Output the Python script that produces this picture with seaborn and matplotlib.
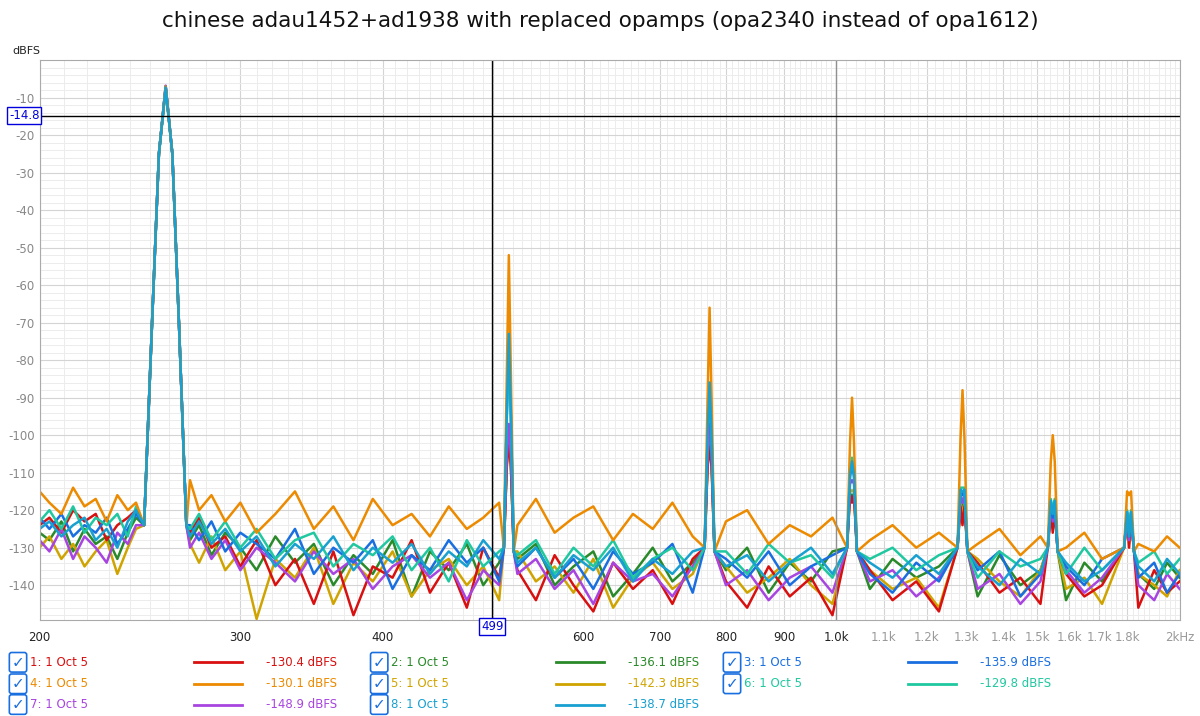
import matplotlib
matplotlib.use('Agg')
import matplotlib.pyplot as plt
import seaborn as sns
import pandas as pd
import numpy as np
from matplotlib.lines import Line2D
from matplotlib.ticker import FixedLocator, NullFormatter

title = "chinese adau1452+ad1938 with replaced opamps (opa2340 instead of opa1612)"

names = ["1: 1 Oct 5", "2: 1 Oct 5", "3: 1 Oct 5", "4: 1 Oct 5",
         "5: 1 Oct 5", "6: 1 Oct 5", "7: 1 Oct 5", "8: 1 Oct 5"]
colors = ["#d81010", "#2a8a2a", "#1a6fe0", "#ec8a00",
          "#d0a400", "#20c8a0", "#a845e0", "#18a0d0"]
readouts = ["-130.4 dBFS", "-136.1 dBFS", "-135.9 dBFS", "-130.1 dBFS",
            "-142.3 dBFS", "-129.8 dBFS", "-148.9 dBFS", "-138.7 dBFS"]

# noise floor sample frequencies (Hz)
noise_f = [200, 204, 209, 214, 219, 224, 229, 234, 239, 243,
           271, 276, 283, 291, 300, 310, 322, 335, 348, 362,
           377, 392, 408, 424, 440, 457, 474, 490, 506,
           525, 545, 566, 588, 612, 637, 663, 690, 718, 748,
           800, 835, 872, 910, 950, 992,
           1070, 1120, 1175, 1230,
           1330, 1390, 1450, 1510,
           1590, 1650, 1710,
           1840, 1900, 1950, 2000]

noise = {
    0: [-124, -122, -126, -120, -123, -121, -128, -124, -122, -120,
        -126, -122, -130, -127, -135, -128, -140, -133, -145, -131,
        -148, -135, -138, -128, -142, -134, -146, -130, -138,
        -136, -144, -132, -140, -147, -134, -141, -136, -145, -133,
        -139, -146, -135, -143, -138, -148,
        -136, -144, -139, -147, -134, -142, -138, -145, -137, -143, -140,
        -146, -136, -142, -139],
    1: [-126, -128, -123, -131, -125, -129, -127, -133, -126, -122,
        -128, -124, -132, -126, -130, -136, -127, -134, -129, -140,
        -132, -137, -128, -143, -131, -136, -129, -140, -134,
        -133, -129, -140, -135, -131, -143, -137, -130, -139, -134,
        -136, -130, -142, -134, -139, -131,
        -141, -133, -138, -135, -143, -132, -140, -136, -144, -134, -139,
        -137, -141, -134, -138],
    2: [-122, -125, -121, -127, -124, -126, -122, -129, -125, -121,
        -124, -128, -123, -131, -126, -129, -133, -125, -137, -130,
        -134, -128, -141, -132, -136, -128, -134, -130, -139,
        -135, -130, -138, -133, -141, -131, -137, -134, -129, -142,
        -133, -138, -131, -140, -135, -132,
        -137, -142, -134, -139, -136, -131, -143, -137, -135, -140, -133,
        -138, -134, -142, -137],
    3: [-115, -118, -121, -114, -119, -117, -123, -116, -120, -118,
        -112, -120, -116, -123, -118, -126, -121, -115, -125, -119,
        -128, -117, -124, -121, -127, -119, -125, -122, -118,
        -124, -117, -126, -122, -119, -128, -121, -125, -118, -127,
        -123, -120, -129, -124, -127, -122,
        -128, -124, -130, -126, -129, -125, -132, -127, -130, -126, -133,
        -129, -131, -127, -130],
    4: [-130, -127, -133, -129, -135, -131, -128, -137, -130, -125,
        -129, -134, -127, -136, -131, -149, -133, -138, -130, -145,
        -134, -139, -131, -143, -136, -133, -140, -135, -144,
        -131, -139, -135, -142, -133, -146, -138, -134, -141, -137,
        -135, -142, -138, -133, -140, -145,
        -136, -141, -138, -146, -133, -139, -143, -136, -141, -138, -145,
        -137, -140, -143, -136],
    5: [-123, -120, -125, -119, -126, -122, -124, -121, -127, -119,
        -125, -121, -128, -123, -130, -125, -133, -128, -126, -135,
        -129, -132, -127, -136, -130, -139, -128, -135, -131,
        -132, -128, -137, -130, -135, -128, -138, -133, -130, -136,
        -131, -137, -129, -134, -132, -138,
        -133, -130, -136, -132, -138, -131, -135, -133, -137, -130, -136,
        -134, -131, -137, -133],
    6: [-128, -131, -125, -133, -127, -130, -134, -126, -129, -124,
        -130, -126, -133, -128, -136, -130, -134, -139, -131, -137,
        -133, -141, -135, -132, -138, -134, -144, -136, -140,
        -137, -133, -141, -136, -145, -134, -139, -137, -143, -135,
        -140, -136, -144, -138, -135, -142,
        -139, -136, -143, -138, -141, -137, -145, -139, -136, -142, -138,
        -140, -144, -137, -141],
    7: [-125, -123, -127, -124, -122, -128, -125, -130, -123, -120,
        -127, -123, -129, -125, -131, -127, -135, -129, -133, -127,
        -136, -130, -134, -129, -137, -131, -135, -128, -133,
        -134, -130, -138, -132, -136, -130, -139, -133, -137, -131,
        -135, -132, -139, -134, -130, -137,
        -134, -138, -132, -137, -135, -140, -133, -137, -134, -139, -136,
        -135, -139, -133, -137],
}

# fundamental and harmonics (Hz) with peak levels per series (dBFS)
fund_f = 258
harm_f = [516, 774, 1032, 1290, 1548, 1806]
harm_peaks = {
    0: [-102, -103, -118, -124, -126, -130],
    1: [-100, -100, -117, -120, -124, -128],
    2: [-74, -87, -108, -116, -122, -127],
    3: [-52, -66, -90, -88, -100, -116],
    4: [-101, -101, -115, -122, -125, -129],
    5: [-75, -86, -106, -114, -120, -126],
    6: [-97, -97, -112, -118, -123, -128],
    7: [-73, -86, -107, -115, -121, -127],
}
fund_peak = [-7, -7.5, -7, -7, -7.5, -7.2, -6.8, -7.3]


def series_frame(i):
    f = list(noise_f)
    v = list(noise[i])
    # fundamental shape
    f += [247, 251, 254.5, fund_f, 261.5, 265, 269]
    p = fund_peak[i]
    v += [-124, -70, -25, p, -25, -70, -124]
    for hf, hp in zip(harm_f, harm_peaks[i]):
        f += [hf * 0.99, hf * 0.996, hf, hf * 1.004, hf * 1.01]
        v += [-130, (hp - 130) / 2 + 8, hp, (hp - 130) / 2 + 8, -131]
    df = pd.DataFrame({"freq": f, "dB": v}).sort_values("freq")
    df["series"] = names[i]
    return df


fig = plt.figure(figsize=(12, 7.16), dpi=100)
ax = fig.add_axes([0.033, 0.134, 0.95, 0.782])

order = [1, 4, 0, 6, 2, 5, 3, 7]
for i in order:
    d = series_frame(i)
    sns.lineplot(data=d, x="freq", y="dB", ax=ax, color=colors[i],
                 linewidth=1.8, sort=False, estimator=None, legend=False)

ax.set_xscale("log")
ax.set_xlim(200, 2000)
ax.set_ylim(-149.3, 0)

major_x = [200, 300, 400, 500, 600, 700, 800, 900, 1000, 1100, 1200, 1300,
           1400, 1500, 1600, 1700, 1800, 2000]
xlabels = ["200", "300", "400", "", "600", "700", "800", "900", "1.0k", "1.1k",
           "1.2k", "1.3k", "1.4k", "1.5k", "1.6k", "1.7k", "1.8k", "2kHz"]
minor_x = [f for f in range(210, 1000, 10) if f % 100] + \
          [f for f in range(1020, 2000, 20) if f % 100]
ax.xaxis.set_major_locator(FixedLocator(major_x))
ax.set_xticks(major_x)
ax.set_xticklabels(xlabels)
ax.xaxis.set_minor_locator(FixedLocator(minor_x))
ax.xaxis.set_minor_formatter(NullFormatter())
for lab, val in zip(ax.get_xticklabels(), major_x):
    lab.set_color("#999999" if val > 1000 else "#222222")

yt = list(range(-140, 0, 10))
ax.set_yticks(yt)
ax.set_yticklabels([str(t) for t in yt], color="#888888")
ax.set_yticks(list(range(-148, 0, 2)), minor=True)
ax.tick_params(axis="both", which="both", length=0, labelsize=8.5)
ax.tick_params(axis="x", pad=8)
ax.grid(which="minor", color="#ececec", linewidth=0.7)
ax.grid(which="major", color="#d4d4d4", linewidth=0.8)
ax.axvline(1000, color="#909090", linewidth=1)
for s in ax.spines.values():
    s.set_color("#aaaaaa")
ax.set_xlabel("")
ax.set_ylabel("")

# cursors
ax.axvline(499, color="black", linewidth=1)
ax.axhline(-14.8, color="black", linewidth=1)
ax.text(200, -14.8, "-14.8", ha="right", va="center", fontsize=8.5, color="#0000dd",
        bbox=dict(boxstyle="square,pad=0.15", fc="white", ec="#0000dd", lw=1))
ax.text(499, -149.3, "499", transform=ax.transData, ha="center", va="top",
        fontsize=8.5, color="#0000dd",
        bbox=dict(boxstyle="square,pad=0.15", fc="white", ec="#0000dd", lw=1))

fig.text(0.01, 0.925, "dBFS", fontsize=8, color="#222222")
fig.suptitle(title, y=0.985, fontsize=15.5, color="#111111")

# legend rows
col_x = [0.009, 0.31, 0.604]
row_y = [0.075, 0.045, 0.016]
for i in range(8):
    r, c = divmod(i, 3)
    x0, y0 = col_x[c], row_y[r]
    fig.text(x0 + 0.006, y0, "\u2713", fontsize=11, color="#1a6fe0",
             ha="center", va="center", fontweight="bold",
             bbox=dict(boxstyle="round,pad=0.15", fc="white", ec="#1a6fe0", lw=1.2))
    fig.text(x0 + 0.016, y0, names[i], fontsize=8.5, color=colors[i], va="center")
    fig.add_artist(Line2D([x0 + 0.153, x0 + 0.193], [y0, y0], color=colors[i],
                          lw=2, transform=fig.transFigure))
    fig.text(x0 + 0.213, y0, readouts[i], fontsize=8.5, color=colors[i], va="center")

fig.savefig("out.png", dpi=100, facecolor="white")
